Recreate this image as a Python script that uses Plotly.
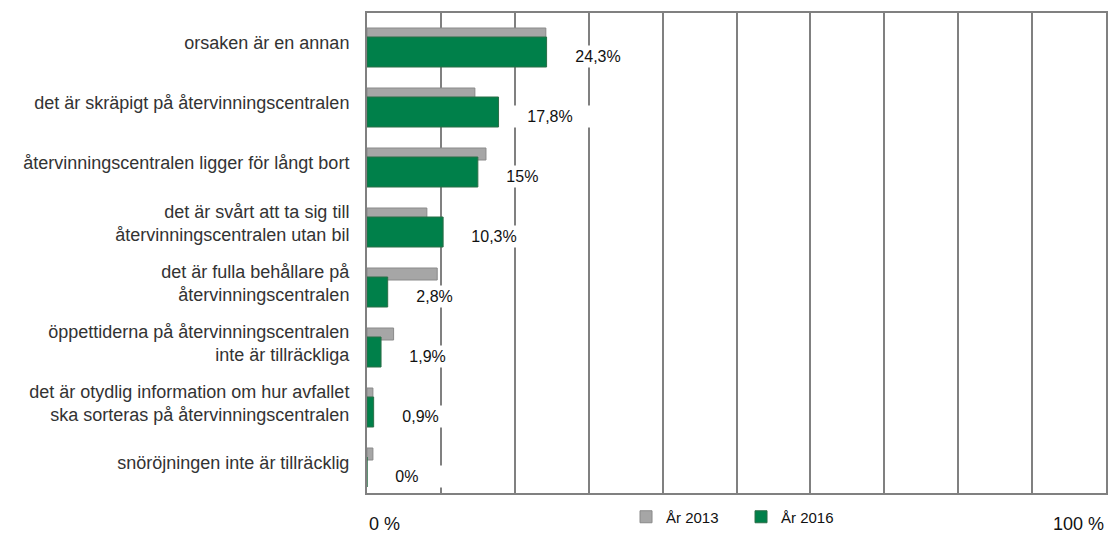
import plotly.graph_objects as go

categories = [
    "orsaken är en annan",
    "det är skräpigt på återvinningscentralen",
    "återvinningscentralen ligger för långt bort",
    "det är svårt att ta sig till<br>återvinningscentralen utan bil",
    "det är fulla behållare på<br>återvinningscentralen",
    "öppettiderna på återvinningscentralen<br>inte är tillräckliga",
    "det är otydlig information om hur avfallet<br>ska sorteras på återvinningscentralen",
    "snöröjningen inte är tillräcklig",
]
values_2013 = [24.2, 14.6, 16.1, 8.1, 9.5, 3.6, 0.8, 0.8]
values_2016 = [24.3, 17.8, 15.0, 10.3, 2.8, 1.9, 0.9, 0.0]
series_names = ["År 2013", "År 2016"]
axis_labels = ["0 %", "100 %"]

GRAY = "#a6a6a6"
GREEN = "#00804a"
LINE = "#808080"
FONT = "Liberation Sans, Arial, sans-serif"


def pct(v):
    return f"{v:g}".replace(".", ",") + "%"


fig = go.Figure()

fig.add_trace(go.Bar(
    y=categories, x=values_2013, orientation="h", name=series_names[0],
    marker=dict(color=GRAY, line=dict(color="#8a8a8a", width=1)),
    offset=-0.25, width=0.2, hoverinfo="x",
))
fig.add_trace(go.Bar(
    y=categories, x=values_2016, orientation="h", name=series_names[1],
    marker=dict(color=GREEN, line=dict(color="#2b6e47", width=1)),
    offset=-0.1, width=0.5, hoverinfo="x",
))

# värdeetiketter för 2016, vit ruta som täcker stödlinjerna
for cat, v in zip(categories, values_2016):
    fig.add_annotation(
        x=v, y=cat, text="\u00a0\u00a0\u00a0" + pct(v), showarrow=False,
        xanchor="left", yanchor="middle", xshift=12, yshift=-13,
        width=75, align="left", bgcolor="white", borderpad=2,
        font=dict(size=16, color="#111111", family=FONT),
    )

fig.add_annotation(x=0, y=-0.065, yref="paper", text=axis_labels[0], showarrow=False,
                   xanchor="left", yanchor="middle", font=dict(size=18, color="#111111", family=FONT))
fig.add_annotation(x=100, y=-0.065, yref="paper", text=axis_labels[1], showarrow=False,
                   xanchor="right", yanchor="middle", font=dict(size=18, color="#111111", family=FONT))

fig.update_layout(
    width=1110, height=535,
    margin=dict(l=367, r=2, t=13, b=38),
    barmode="overlay",
    plot_bgcolor="white", paper_bgcolor="white",
    font=dict(family=FONT, color="#333333"),
    legend=dict(orientation="h", x=0.3505, xanchor="left", y=-0.05, yanchor="middle",
                font=dict(size=15, color="#111111"), itemwidth=30,
                entrywidth=70, entrywidthmode="pixels"),
)
fig.update_xaxes(range=[0, 100], dtick=10, showticklabels=False, showgrid=True,
                 gridcolor=LINE, gridwidth=2, showline=True, linecolor=LINE,
                 linewidth=2, mirror=True, zeroline=False, ticks="")
fig.update_yaxes(range=[7.5, -0.5], showgrid=False, showline=True, linecolor=LINE,
                 linewidth=2, mirror=True, ticks="", ticklabelstandoff=12,
                 tickfont=dict(size=18, color="#333333"))

# ingen body-marginal, så att figuren fyller fönstret exakt
fig.write_html(
    "out.html",
    config={"displayModeBar": False},
    post_script="document.body.style.margin='0px';document.body.style.overflow='hidden';",
)
